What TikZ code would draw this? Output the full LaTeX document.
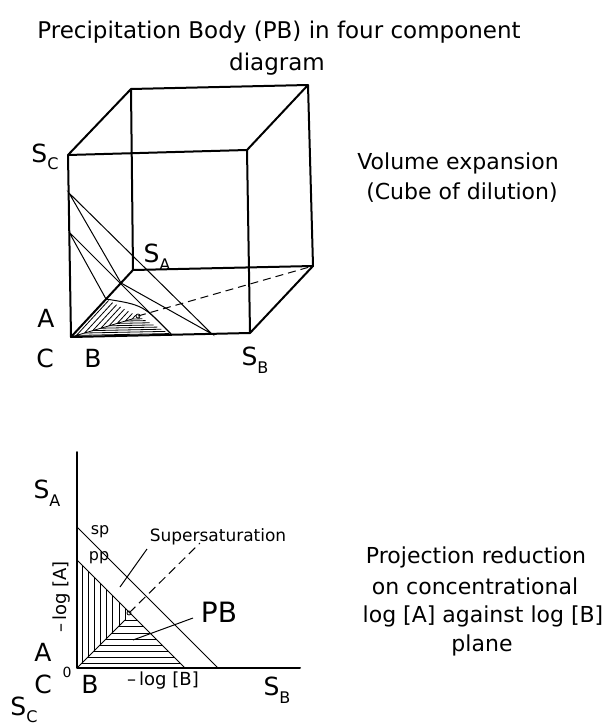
\documentclass[tikz,border=0pt]{standalone}
\usepackage{fontspec}
\setmainfont{DejaVu Sans}
\newcommand\SSub[1]{S\raisebox{-0.3em}{\fontsize{16}{16}\selectfont #1}}
\begin{document}
\begin{tikzpicture}[x=1pt,y=-1pt,
  edge/.style={line width=2pt, line join=round, line cap=round},
  fine/.style={line width=1pt},
  hatchline/.style={line width=0.8pt},
  big/.style={inner sep=0pt, font=\fontsize{25}{25}\selectfont},
  txt/.style={inner sep=0pt, font=\fontsize{22}{22}\selectfont},
  small/.style={inner sep=0pt, font=\fontsize{16}{16}\selectfont}]
\useasboundingbox (0,0) rectangle (610,727);

% ---------- title ----------
\node[inner sep=0pt, font=\fontsize{23}{23}\selectfont] (t1) at (279,32) {Precipitation Body (PB) in four component};
\node[inner sep=0pt, font=\fontsize{23}{23}\selectfont] (t2) at (277,64) {diagram};

% ---------- cube ----------
\coordinate (FTL) at (68,155);
\coordinate (FTR) at (247,150);
\coordinate (FBR) at (250,333);
\coordinate (C0) at (71,337);
\coordinate (BTL) at (131,89);
\coordinate (BTR) at (308,85);
\coordinate (BBR) at (313,266);
\coordinate (BBL) at (133,270);
\draw[edge] (FTL)--(FTR)--(FBR)--(C0)--cycle;
\draw[edge] (BTL)--(BTR)--(BBR)--(BBL)--cycle;
\draw[edge] (FTL)--(BTL) (FTR)--(BTR) (FBR)--(BBR) (C0)--(BBL);

\coordinate (P1) at (69,193);
\coordinate (P2) at (69,232);
\coordinate (SA1) at (121,283);
\coordinate (PA1) at (106,299);
\coordinate (SB1) at (212,334);
\coordinate (PB1) at (172,335);
\draw[fine] (P1)--(SA1)--(SB1)--cycle;
\draw[fine] (P2)--(PA1) (P2)--(PB1);
\draw[fine] (PA1) .. controls (143,305) .. (PB1);
\foreach \t in {0.04,0.1,0.16,0.22,0.28,0.34,0.40,0.45}{
  \draw[hatchline] ({106+66*\t},{299+36*\t}) -- ({71+136*\t},{337-40*\t}) -- ({172-66*\t},{335-36*\t});
}
\draw[hatchline] (C0) -- ({71+136*0.45},{337-40*0.45});
\coordinate (apex3) at (138,316);
\draw[hatchline] (apex3) circle (2);
\draw[fine, dash pattern=on 8pt off 5pt] (apex3) -- (BBR);

\node[big] (lSC) at (45,157) {\SSub{C}};
\node[big] (lSA) at (157,257) {\SSub{A}};
\node[big] (lA) at (46,318) {A};
\node[big] (lC) at (45,358) {C};
\node[big] (lB) at (93,358) {B};
\node[big] (lSB) at (255,360) {\SSub{B}};

\node[txt] (v1) at (458,163) {Volume expansion};
\node[txt] (v2) at (462,193) {(Cube of dilution)};

% ---------- projection ----------
\coordinate (O) at (77,668);
\coordinate (Ytop) at (77,452);
\coordinate (Xend) at (300,668);
\draw[edge] (Ytop)--(O)--(Xend);
\coordinate (spA) at (77,527);
\coordinate (spB) at (218,668);
\coordinate (ppA) at (77,560);
\coordinate (ppB) at (185,668);
\draw[fine] (spA)--(spB);
\draw[fine] (ppA)--(ppB);
\foreach \s in {5,11,17,23,29,35,42,48}{
  \draw[hatchline] ({77+\s},{560+\s}) -- ({77+\s},{668-\s}) -- ({185-\s},{668-\s});
}
\draw[hatchline] (O) -- (125,620);
\coordinate (apex2) at (129,613);
\draw[hatchline] (apex2) circle (2);
\coordinate (dashEnd) at (200,543);
\draw[fine, dash pattern=on 9pt off 5pt] (apex2) -- (dashEnd);
\coordinate (ssA) at (147,549);
\coordinate (ssB) at (120,587);
\draw[fine] (ssA) -- (ssB);
\coordinate (pbA) at (193,618);
\coordinate (pbB) at (133,640);
\draw[fine] (pbA) -- (pbB);

\node[big] (mSA) at (47,493) {\SSub{A}};
\node[small] (sp) at (100,532) {sp};
\node[small] (pp) at (99,558) {pp};
\node[inner sep=0pt, font=\fontsize{18}{18}\selectfont, rotate=90] (logA) at (62,597) {–\,log [A]};
\node[inner sep=0pt, font=\fontsize{17}{17}\selectfont] (super) at (218,537) {Supersaturation};
\node[inner sep=0pt, font=\fontsize{28}{28}\selectfont] (PB) at (219,612) {PB};
\node[big] (mA) at (43,652) {A};
\node[inner sep=0pt, font=\fontsize{14}{14}\selectfont] (zero) at (67,672) {0};
\node[big] (mC) at (43,684) {C};
\node[big] (mB) at (90,684) {B};
\node[inner sep=0pt, font=\fontsize{18}{18}\selectfont] (logB) at (163,681) {–\,log [B]};
\node[big] (mSB) at (277,690) {\SSub{B}};
\node[big] (mSC) at (24,710) {\SSub{C}};

\node[txt] (r1) at (476,557) {Projection reduction};
\node[txt] (r2) at (475,586) {on concentrational};
\node[txt] (r3) at (483,616) {log [A] against log [B]};
\node[txt] (r4) at (482,645) {plane};
\end{tikzpicture}
\end{document}
